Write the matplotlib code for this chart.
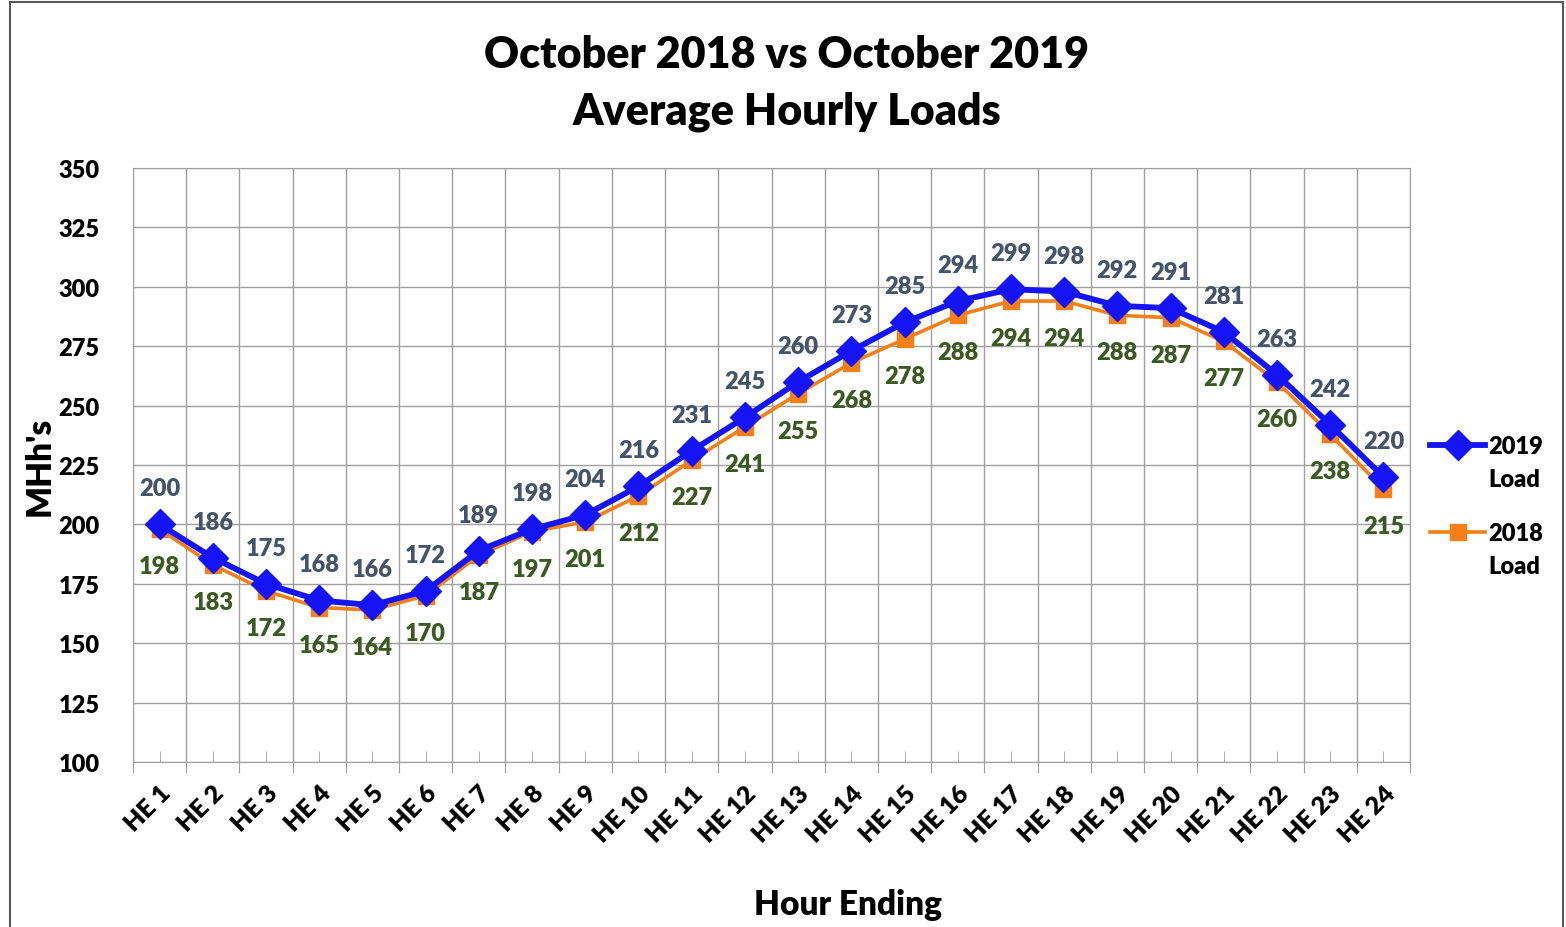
import matplotlib
matplotlib.use("Agg")
import matplotlib.pyplot as plt
from matplotlib.patches import Rectangle

plt.rcParams['font.family'] = ['Lato', 'DejaVu Sans']
W = 'heavy'

hours = ["HE %d" % h for h in range(1, 25)]
load_2019 = [200, 186, 175, 168, 166, 172, 189, 198, 204, 216, 231, 245,
             260, 273, 285, 294, 299, 298, 292, 291, 281, 263, 242, 220]
load_2018 = [198, 183, 172, 165, 164, 170, 187, 197, 201, 212, 227, 241,
             255, 268, 278, 288, 294, 294, 288, 287, 277, 260, 238, 215]

blue = '#1414F5'
orange = '#F77F17'
grey_lbl = '#44546A'
green_lbl = '#3B5A22'

fig = plt.figure(figsize=(15.66, 9.28), dpi=100)
ax = fig.add_axes([133/1566, 1 - 763/928, (1410-133)/1566, (763-169)/928])

x = list(range(1, 25))
ax.plot(x, load_2019, color=blue, lw=4.2, marker='D', ms=15, label='2019', zorder=4)
ax.plot(x, load_2018, color=orange, lw=2.6, marker='s', ms=11, label='2018', zorder=3)

for xi, v in zip(x, load_2019):
    ax.annotate(str(v), (xi, v), xytext=(0, 36), textcoords='offset pixels',
                ha='center', va='center', fontsize=17, fontweight=W, color=grey_lbl)
for xi, v in zip(x, load_2018):
    ax.annotate(str(v), (xi, v), xytext=(0, -37), textcoords='offset pixels',
                ha='center', va='center', fontsize=17, fontweight=W, color=green_lbl)

ax.set_xlim(0.5, 24.5)
ax.set_ylim(100, 350)
ax.set_yticks(range(100, 351, 25))
ax.set_xticks([i + 0.5 for i in range(0, 25)])
ax.set_xticklabels([])
ax.set_xticks(x, minor=True)
ax.set_xticklabels(hours, minor=True, rotation=45, ha='right', rotation_mode='anchor',
                   fontsize=18, fontweight=W)
ax.tick_params(axis='x', which='major', direction='out', length=8, color='#A0A0A0')
ax.tick_params(axis='x', which='minor', direction='in', length=8, color='#A0A0A0', pad=14)
ax.tick_params(axis='y', length=0, pad=24, labelsize=17)
for lbl in ax.get_yticklabels():
    lbl.set_fontweight(W)
ax.grid(True, which='major', color='#A0A0A0', lw=1)
ax.set_axisbelow(True)
for s in ax.spines.values():
    s.set_color('#A0A0A0')

ax.set_ylabel("MHh's", fontsize=24, fontweight=W, labelpad=2)
fig.text(848/1566, 1 - 905/928, "Hour Ending", ha='center', va='center',
         fontsize=24, fontweight=W)
fig.text(787/1566, 1 - 55/928, "October 2018 vs October 2019", ha='center', va='center',
         fontsize=31, fontweight=W)
fig.text(787/1566, 1 - 112/928, "Average Hourly Loads", ha='center', va='center',
         fontsize=31, fontweight=W)

leg = ax.legend(loc='upper left', bbox_to_anchor=(1.016, (763 - 436) / 594), frameon=False,
                fontsize=17, handlelength=2.3, labelspacing=2.75, handletextpad=0.15,
                borderpad=0, borderaxespad=0)
for t in leg.get_texts():
    t.set_fontweight(W)

# second line "Load" under each legend entry
fig.canvas.draw()
for t in leg.get_texts():
    bb = t.get_window_extent()
    fig.text(bb.x0 / 1566, (bb.y0 + bb.height / 2 - 33) / 928, "Load",
             ha='left', va='center', fontsize=17, fontweight=W)

fig.patches.append(Rectangle((10/1566, -0.01), (1563-10)/1566, 1 - 3/928 + 0.01,
                             transform=fig.transFigure, fill=False,
                             edgecolor='#595959', lw=1.5))

fig.savefig('out.png', dpi=100)
